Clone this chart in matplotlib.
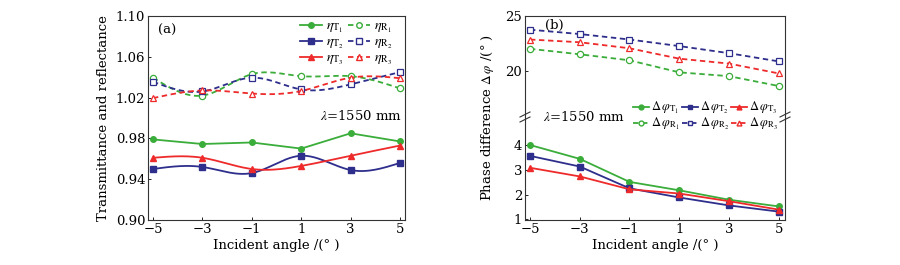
import numpy as np
import matplotlib
matplotlib.use("Agg")
import matplotlib.pyplot as plt
from matplotlib.lines import Line2D

plt.rcParams['font.family'] = ['DejaVu Serif']
plt.rcParams['mathtext.fontset'] = 'stix'
plt.rcParams['font.size'] = 9

angles = [-5, -3, -1, 1, 3, 5]
# panel (a)
eta_T1 = [0.979, 0.9745, 0.976, 0.970, 0.985, 0.977]
eta_T2 = [0.950, 0.952, 0.946, 0.963, 0.949, 0.956]
eta_T3 = [0.961, 0.961, 0.950, 0.953, 0.963, 0.973]
eta_R1 = [1.0395, 1.022, 1.043, 1.041, 1.041, 1.029]
eta_R2 = [1.0355, 1.026, 1.0395, 1.028, 1.033, 1.045]
eta_R3 = [1.0195, 1.027, 1.024, 1.0265, 1.0395, 1.039]
# panel (b)
dphi_T1 = [4.0, 3.44, 2.51, 2.17, 1.79, 1.52]
dphi_T2 = [3.56, 3.13, 2.25, 1.88, 1.56, 1.31]
dphi_T3 = [3.08, 2.73, 2.21, 2.04, 1.73, 1.39]
dphi_R1 = [22.0, 21.5, 20.95, 19.85, 19.5, 18.6]
dphi_R2 = [23.75, 23.35, 22.85, 22.25, 21.6, 20.85]
dphi_R3 = [22.85, 22.6, 22.05, 21.1, 20.65, 19.75]
xticklabels = ['\u22125', '\u22123', '\u22121', '1', '3', '5']

GREEN = '#3aad3a'
BLUE = '#2e2e8c'
RED = '#ee2a2a'


def spline(x, y, n=200):
    x = np.asarray(x, float); y = np.asarray(y, float)
    k = len(x)
    h = np.diff(x)
    A = np.zeros((k, k)); b = np.zeros(k)
    A[0, 0] = 1; A[-1, -1] = 1
    for i in range(1, k - 1):
        A[i, i - 1] = h[i - 1]; A[i, i] = 2 * (h[i - 1] + h[i]); A[i, i + 1] = h[i]
        b[i] = 3 * ((y[i + 1] - y[i]) / h[i] - (y[i] - y[i - 1]) / h[i - 1])
    c = np.linalg.solve(A, b)
    xs = np.linspace(x[0], x[-1], n)
    ys = np.empty_like(xs)
    for j, xv in enumerate(xs):
        i = min(np.searchsorted(x, xv, side='right') - 1, k - 2)
        bi = (y[i + 1] - y[i]) / h[i] - h[i] * (2 * c[i] + c[i + 1]) / 3
        di = (c[i + 1] - c[i]) / (3 * h[i])
        t = xv - x[i]
        ys[j] = y[i] + bi * t + c[i] * t * t + di * t ** 3
    return xs, ys


fig = plt.figure(figsize=(9, 2.65), dpi=100)
W, H = 900, 265


def rect(x0, y0, x1, y1):
    return [x0 / W, 1 - y1 / H, (x1 - x0) / W, (y1 - y0) / H]


def style(ax):
    ax.tick_params(direction='in', length=2.5, width=0.6, labelsize=9.5, pad=2)
    for s in ax.spines.values():
        s.set_linewidth(0.8)
        s.set_color('#333333')


DASH = (0, (3, 2))
LBL = 9.5
# ---------------- panel (a)
ax = fig.add_axes(rect(148, 16, 405, 220))
style(ax)
for ys, c, m, smooth in [(eta_T1, GREEN, 'o', False), (eta_T2, BLUE, 's', True), (eta_T3, RED, '^', True)]:
    if smooth:
        xs, yy = spline(angles, ys)
        ax.plot(xs, yy, color=c, lw=1.3)
    else:
        ax.plot(angles, ys, color=c, lw=1.3)
    ax.plot(angles, ys, ls='none', marker=m, color=c, ms=4)
for ys, c, m in [(eta_R1, GREEN, 'o'), (eta_R2, BLUE, 's'), (eta_R3, RED, '^')]:
    xs, yy = spline(angles, ys)
    ax.plot(xs, yy, color=c, lw=1.3, ls=DASH)
    ax.plot(angles, ys, ls='none', marker=m, mfc='white', mec=c, ms=4.5, mew=0.9)
ax.set_xlim(-5.2, 5.2)
ax.set_ylim(0.90, 1.10)
ax.set_xticks(angles)
ax.set_xticklabels(xticklabels)
ax.set_yticks([0.90, 0.94, 0.98, 1.02, 1.06, 1.10])
ax.set_yticklabels(['0.90', '0.94', '0.98', '1.02', '1.06', '1.10'])
ax.set_xlabel('Incident angle /(\u00b0 )', fontsize=LBL, labelpad=2)
ax.set_ylabel('Transmittance and reflectance', fontsize=LBL, labelpad=4)
ax.text(0.04, 0.96, '(a)', transform=ax.transAxes, fontsize=LBL, va='top')
ax.text(0.67, 0.49, r'$\lambda$=1550 mm', transform=ax.transAxes, fontsize=LBL)
hs = [Line2D([], [], color=GREEN, marker='o', ms=4, lw=1.3),
      Line2D([], [], color=BLUE, marker='s', ms=4, lw=1.3),
      Line2D([], [], color=RED, marker='^', ms=4, lw=1.3),
      Line2D([], [], color=GREEN, marker='o', mfc='white', ms=4, lw=1.3, ls=DASH),
      Line2D([], [], color=BLUE, marker='s', mfc='white', ms=4, lw=1.3, ls=DASH),
      Line2D([], [], color=RED, marker='^', mfc='white', ms=4, lw=1.3, ls=DASH)]
labs = [r'$\eta_{\mathrm{T}_1}$', r'$\eta_{\mathrm{T}_2}$', r'$\eta_{\mathrm{T}_3}$',
        r'$\eta_{\mathrm{R}_1}$', r'$\eta_{\mathrm{R}_2}$', r'$\eta_{\mathrm{R}_3}$']
ax.legend(hs, labs, ncol=2, loc='upper right', bbox_to_anchor=(0.985, 1.025), frameon=False,
          fontsize=10, handlelength=1.6, handletextpad=0.3, columnspacing=0.3,
          labelspacing=0.0, borderaxespad=0.2)

# ---------------- panel (b)
BRK = 117
axu = fig.add_axes(rect(525, 16, 785, BRK))
axl = fig.add_axes(rect(525, BRK, 785, 220))
for a in (axu, axl):
    style(a)
    a.set_xlim(-5.2, 5.25)
axu.spines['bottom'].set_visible(False)
axl.spines['top'].set_visible(False)
axu.tick_params(bottom=False, labelbottom=False)
axu.set_ylim(25 - (BRK - 16) * 5 / 54.7, 25)
axl.set_ylim(1 - 0.7 / 24.8, 4 + (145 - BRK) / 24.8)
axu.set_yticks([20, 25])
axl.set_yticks([1, 2, 3, 4])
axl.set_xticks(angles)
axl.set_xticklabels(xticklabels)
for ys, c, m in [(dphi_T1, GREEN, 'o'), (dphi_T2, BLUE, 's'), (dphi_T3, RED, '^')]:
    axl.plot(angles, ys, color=c, marker=m, ms=4, lw=1.3)
for ys, c, m in [(dphi_R1, GREEN, 'o'), (dphi_R2, BLUE, 's'), (dphi_R3, RED, '^')]:
    axu.plot(angles, ys, color=c, marker=m, mfc='white', mec=c, ms=4.5, mew=0.9, lw=1.3, ls=DASH)
axl.set_xlabel('Incident angle /(\u00b0 )', fontsize=LBL, labelpad=2)
fig.text(487 / W, 1 - 118 / H, 'Phase difference $\\Delta\\,\\varphi$ /(\u00b0 )', rotation=90,
         ha='center', va='center', fontsize=LBL)
axu.text(0.075, 0.97, '(b)', transform=axu.transAxes, fontsize=LBL, va='top')
fig.text(543 / W, 1 - 117 / H, r'$\lambda$=1550 mm', fontsize=LBL, va='center')
# break marks
for xf in (0, 1):
    for dy in (-2.5, 2.5):
        x0 = 525 + xf * 260
        fig.add_artist(Line2D([(x0 - 5) / W, (x0 + 5) / W],
                              [1 - (BRK + dy + 2.5) / H, 1 - (BRK + dy - 2.5) / H],
                              color='#333333', lw=0.8))
hs2 = [Line2D([], [], color=GREEN, marker='o', ms=3.5, lw=1.3),
       Line2D([], [], color=GREEN, marker='o', mfc='white', ms=3.5, lw=1.3, ls=DASH),
       Line2D([], [], color=BLUE, marker='s', ms=3.5, lw=1.3),
       Line2D([], [], color=BLUE, marker='s', mfc='white', ms=3.5, lw=1.3, ls=DASH),
       Line2D([], [], color=RED, marker='^', ms=3.5, lw=1.3),
       Line2D([], [], color=RED, marker='^', mfc='white', ms=3.5, lw=1.3, ls=DASH)]
labs2 = [r'$\Delta\,\varphi_{\mathrm{T}_1}$', r'$\Delta\,\varphi_{\mathrm{R}_1}$',
         r'$\Delta\,\varphi_{\mathrm{T}_2}$', r'$\Delta\,\varphi_{\mathrm{R}_2}$',
         r'$\Delta\,\varphi_{\mathrm{T}_3}$', r'$\Delta\,\varphi_{\mathrm{R}_3}$']
fig.legend(hs2, labs2, ncol=3, loc='center right', bbox_to_anchor=(778 / W, 1 - 116 / H),
           frameon=False, fontsize=9, handlelength=1.3, handletextpad=0.15,
           columnspacing=0.15, labelspacing=0.0, borderaxespad=0, borderpad=0)

fig.savefig('out.png', dpi=100)
